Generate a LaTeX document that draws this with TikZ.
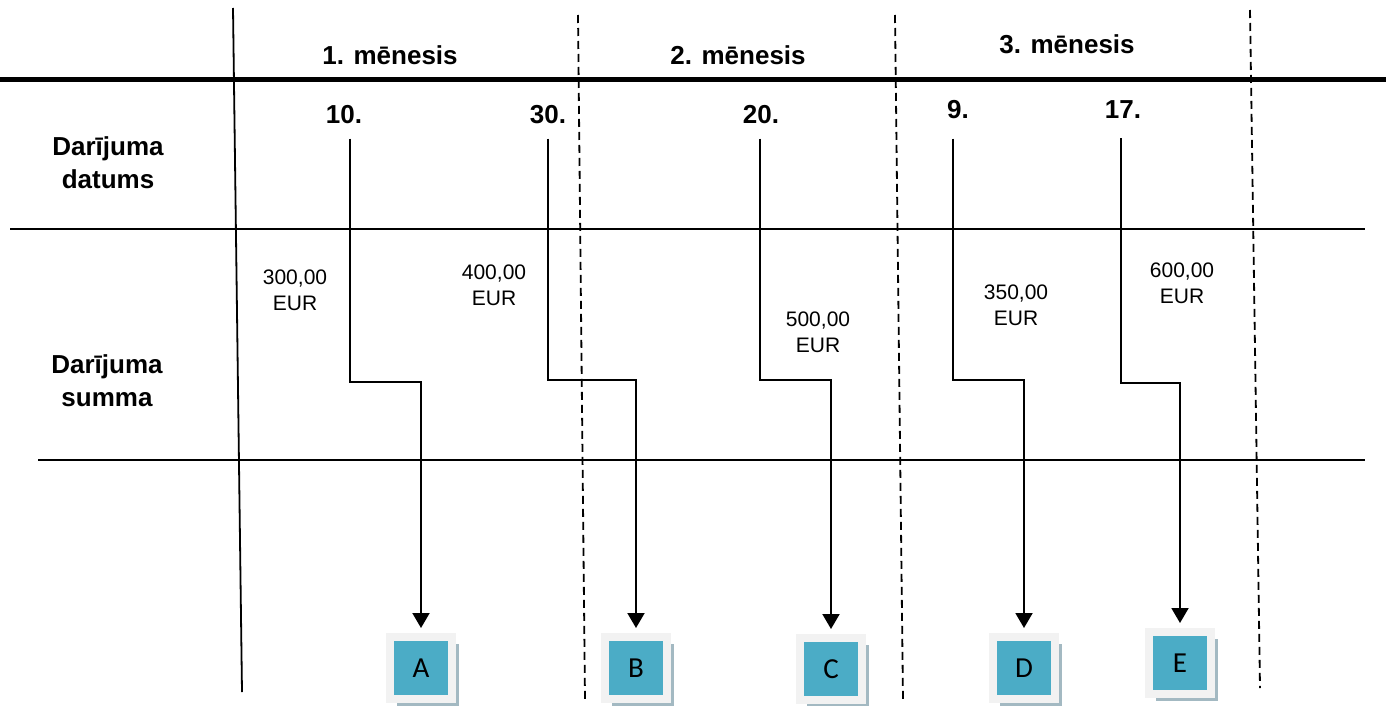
\documentclass[tikz,border=0pt]{standalone}
\usepackage{fontspec}
\setmainfont{Liberation Sans}
\newfontfamily\boxfont{Carlito}
\usetikzlibrary{arrows.meta,shadows}
\definecolor{kontszils}{HTML}{4BACC6}
\definecolor{kontsmala}{HTML}{F2F2F2}
\definecolor{kontsena}{HTML}{A3B9C2}
\tikzset{
  virsr/.style={font=\bfseries\fontsize{13}{16.5}\selectfont,inner sep=0pt,align=center},
  summa/.style={font=\fontsize{10.5}{13}\selectfont,inner sep=0pt,align=center},
  conn/.style={line width=1pt,-{Triangle[length=7.5pt,width=8.5pt]},shorten >=2.5pt},
  konts/.style={rectangle,fill=kontszils,draw=kontsmala,line width=4pt,minimum size=31pt,inner sep=0pt,
    font=\boxfont\fontsize{14.5}{16}\selectfont,
    general shadow={fill=kontsena,shadow xshift=3.5pt,shadow yshift=-3.5pt}},
  robeza/.style={dashed,dash pattern=on 4pt off 2.5pt,line width=0.9pt}
}
\begin{document}
\begin{tikzpicture}[x=0.5pt,y=-0.5pt]
    \useasboundingbox (0,0) rectangle (1386,706);
    %liniju rezgis
    \draw[line width=2.5pt] (0,80) -- (1386,80);
    \draw[line width=0.9pt] (10,229) -- (1365,229);
    \draw[line width=0.9pt] (38,460) -- (1365,460);
    \draw[line width=0.9pt] (233,8) -- (242,692);
    %menesu robezas
    \draw[robeza] (578,15) -- (585,700);
    \draw[robeza] (895,15) -- (903,700);
    \draw[robeza] (1250,10) -- (1260,688);

    %virsraksti
    \node[virsr] (m1) at (390,55) {1. mēnesis};
    \node[virsr] (m2) at (738,55) {2. mēnesis};
    \node[virsr] (m3) at (1067,44) {3. mēnesis};
    \node[virsr] (rd) at (108,163) {Darījuma\\datums};
    \node[virsr] (rs) at (107,381) {Darījuma\\summa};

    %datumi
    \node[virsr] (d1) at (344,115) {10.};
    \node[virsr] (d2) at (548,115) {30.};
    \node[virsr] (d3) at (761,115) {20.};
    \node[virsr] (d4) at (958,110) {9.};
    \node[virsr] (d5) at (1123,110) {17.};

    %summas
    \node[summa] (s1) at (295,290) {300,00\\EUR};
    \node[summa] (s2) at (494,285) {400,00\\EUR};
    \node[summa] (s3) at (818,332) {500,00\\EUR};
    \node[summa] (s4) at (1016,305) {350,00\\EUR};
    \node[summa] (s5) at (1182,283) {600,00\\EUR};

    %konti
    \node[konts] (A) at (421,668) {A};
    \node[konts] (B) at (636,668) {B};
    \node[konts] (C) at (831,669) {C};
    \node[konts] (D) at (1024,668) {D};
    \node[konts] (E) at (1180,663) {E};

    %bultas
    \draw[conn] ([xshift=3pt,yshift=-7pt]d1.south) -- ++(0,243) -| (A.north);
    \draw[conn] ([yshift=-7pt]d2.south) -- ++(0,241) -| (B.north);
    \draw[conn] ([xshift=-0.5pt,yshift=-7pt]d3.south) -- ++(0,241) -| (C.north);
    \draw[conn] ([xshift=-2.5pt,yshift=-9.5pt]d4.south) -- ++(0,241) -| (D.north);
    \draw[conn] ([xshift=-1pt,yshift=-9.5pt]d5.south) -- ++(0,245) -| (E.north);
\end{tikzpicture}
\end{document}
